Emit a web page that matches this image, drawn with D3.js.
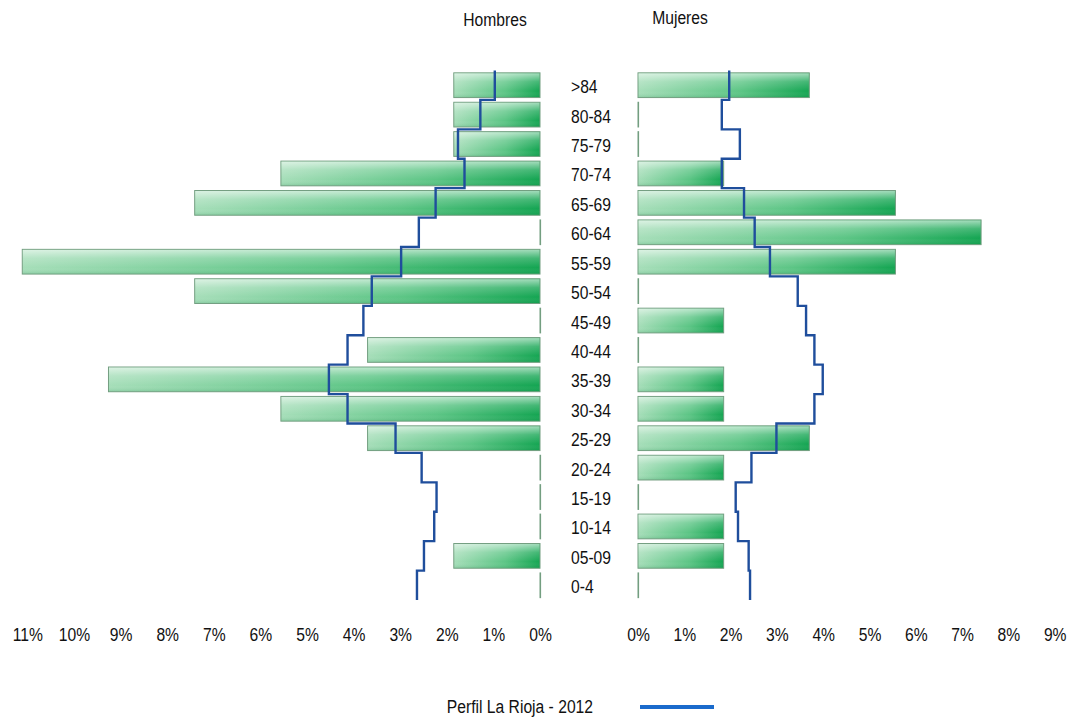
<!DOCTYPE html>
<html>
<head>
<meta charset="utf-8">
<script src="https://cdn.jsdelivr.net/npm/d3@7"></script>
<style>
  body { margin: 0; background: #fff; }
  svg { display: block; font-family: "Liberation Sans", Arial, sans-serif; }
</style>
</head>
<body>
<div class="pyramid"></div>
<script>
// age groups, top to bottom
const ageGroups = ['>84', '80-84', '75-79', '70-74', '65-69', '60-64', '55-59', '50-54', '45-49',
    '40-44', '35-39', '30-34', '25-29', '20-24', '15-19', '10-14', '05-09', '0-4'];

// % of population (bars)
const menPct = [1.85, 1.85, 1.85, 5.56, 7.41, 0, 11.11, 7.41, 0, 3.70, 9.26, 5.56, 3.70, 0, 0, 0, 1.85, 0];
const womenPct = [3.70, 0, 0, 1.85, 5.56, 7.41, 5.56, 0, 1.85, 0, 1.85, 1.85, 3.70, 1.85, 0, 1.85, 1.85, 0];

// reference profile (step line)
const menProfile = [0.97, 1.28, 1.76, 1.62, 2.24, 2.60, 2.98, 3.61, 3.79, 4.13, 4.53, 4.13, 3.10, 2.54, 2.22, 2.27, 2.49, 2.64];
const womenProfile = [1.97, 1.81, 2.20, 1.81, 2.29, 2.52, 2.85, 3.45, 3.63, 3.81, 3.99, 3.81, 2.99, 2.45, 2.11, 2.16, 2.39, 2.42];

const menTicks = [11, 10, 9, 8, 7, 6, 5, 4, 3, 2, 1, 0];
const womenTicks = [0, 1, 2, 3, 4, 5, 6, 7, 8, 9];
const legendLabel = 'Perfil La Rioja - 2012';

const width = 1072;
const height = 724;
const narrow = 'scale(0.87,1)';   // condensed look of the original font

const svg = d3.select('.pyramid').append('svg')
    .attr('width', width)
    .attr('height', height);

const defs = svg.append('defs');
const grad = defs.append('linearGradient').attr('id', 'barGrad')
    .attr('x1', '0%').attr('x2', '100%').attr('y1', '0%').attr('y2', '0%');
grad.append('stop').attr('offset', '0%').attr('stop-color', '#a6deb9');
grad.append('stop').attr('offset', '60%').attr('stop-color', '#5cc585');
grad.append('stop').attr('offset', '100%').attr('stop-color', '#14a552');

const shine = defs.append('linearGradient').attr('id', 'barShine')
    .attr('x1', '0%').attr('x2', '0%').attr('y1', '0%').attr('y2', '100%');
shine.append('stop').attr('offset', '0%').attr('stop-color', '#fff').attr('stop-opacity', 0.6);
shine.append('stop').attr('offset', '35%').attr('stop-color', '#fff').attr('stop-opacity', 0.2);
shine.append('stop').attr('offset', '75%').attr('stop-color', '#fff').attr('stop-opacity', 0);
shine.append('stop').attr('offset', '100%').attr('stop-color', '#0a7a3a').attr('stop-opacity', 0.15);

const yScale = d3.scaleBand()
    .domain(ageGroups)
    .range([70.5, 600])
    .paddingInner(0.16)
    .paddingOuter(0.08);

const xMen = d3.scaleLinear().domain([0, 11]).range([540, 27.4]);
const xWomen = d3.scaleLinear().domain([0, 9]).range([638, 1054.7]);

function drawBars(values, xScale, side) {
    const g = svg.append('g').attr('class', 'bars-' + side);
    const rows = ageGroups.map((a, i) => ({ age: a, v: values[i] }));
    const x0 = xScale(0);
    const getX = d => side === 'men' ? xScale(d.v) : x0;
    const getW = d => Math.max(Math.abs(xScale(d.v) - x0), 0.6);

    g.selectAll('rect.fill').data(rows).join('rect')
        .attr('class', 'fill')
        .attr('x', getX)
        .attr('y', d => yScale(d.age))
        .attr('width', getW)
        .attr('height', yScale.bandwidth())
        .attr('fill', 'url(#barGrad)')
        .attr('stroke', '#739e80')
        .attr('stroke-width', 1);

    g.selectAll('rect.shine').data(rows.filter(d => d.v > 0)).join('rect')
        .attr('class', 'shine')
        .attr('x', d => getX(d) + 0.5)
        .attr('y', d => yScale(d.age) + 0.5)
        .attr('width', d => getW(d) - 1)
        .attr('height', yScale.bandwidth() - 1)
        .attr('fill', 'url(#barShine)');
}

drawBars(menPct, xMen, 'men');
drawBars(womenPct, xWomen, 'women');

// step profile lines
function drawProfile(values, xScale) {
    const step = yScale.step();
    const pts = [];
    ageGroups.forEach((a, i) => {
        const top = yScale(a) + yScale.bandwidth() / 2 - step / 2;
        pts.push([xScale(values[i]), top]);
        pts.push([xScale(values[i]), top + step]);
    });
    svg.append('path')
        .datum(pts)
        .attr('fill', 'none')
        .attr('stroke', '#1f4e9c')
        .attr('stroke-width', 2.4)
        .attr('d', d3.line());
}

drawProfile(menProfile, xMen);
drawProfile(womenProfile, xWomen);

// small helper for condensed text
function label(x, y, txt, anchor) {
    svg.append('g').attr('transform', `translate(${x},${y})`)
        .append('text')
        .attr('transform', narrow)
        .attr('text-anchor', anchor || 'start')
        .attr('dy', '0.36em')
        .attr('font-size', 18)
        .attr('fill', '#111')
        .text(txt);
}

// age labels
ageGroups.forEach(a => label(571, yScale(a) + yScale.bandwidth() / 2 + 1.5, a));

// axes (labels only)
function drawAxis(xScale, ticks) {
    const g = svg.append('g')
        .attr('transform', 'translate(0,628)')
        .call(d3.axisBottom(xScale).tickValues(ticks).tickFormat(d => d + '%').tickSize(0).tickPadding(0));
    g.select('.domain').remove();
    g.selectAll('text')
        .attr('font-size', 18)
        .attr('font-family', '"Liberation Sans", Arial, sans-serif')
        .attr('fill', '#111')
        .attr('dy', '0.71em')
        .attr('transform', narrow);
}
drawAxis(xMen, menTicks);
drawAxis(xWomen, womenTicks);

// titles
label(495, 20, 'Hombres', 'middle');
label(680, 18, 'Mujeres', 'middle');

// legend
label(593, 707, legendLabel, 'end');
svg.append('line')
    .attr('x1', 640).attr('x2', 714).attr('y1', 707).attr('y2', 707)
    .attr('stroke', '#1a6bcc').attr('stroke-width', 4);
</script>
</body>
</html>
